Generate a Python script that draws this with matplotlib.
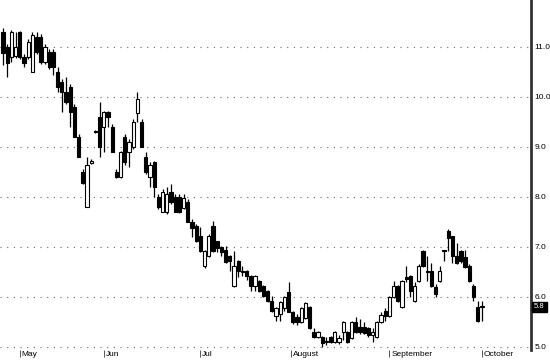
import matplotlib
matplotlib.use("Agg")
import matplotlib.pyplot as plt
import matplotlib.transforms as mtransforms
import numpy as np

# OHLC values per trading day
opens = [11.30, 11.00, 10.80, 10.82, 11.30, 10.80, 10.80, 10.50, 11.20, 11.20,
         10.70, 10.90, 10.90, 10.50, 10.30, 10.10, 10.20, 9.80, 9.20, 8.50,
         7.80, 8.68, 9.32, 9.60, 9.40, 9.70, 9.40, 8.50, 8.40, 9.20,
         8.90, 9.00, 9.67, 9.50, 8.80, 8.40, 8.70, 8.00, 7.70, 7.70,
         8.10, 8.00, 8.00, 7.78, 7.90, 7.50, 7.41, 7.21, 6.61, 6.81,
         7.41, 7.11, 7.00, 6.93, 6.81, 6.21, 6.71, 6.50, 6.51, 6.41,
         6.21, 6.31, 6.21, 6.11, 5.91, 5.61, 5.65, 5.77, 6.10, 5.70,
         5.60, 5.50, 5.57, 5.80, 5.30, 5.20, 5.20, 5.10, 5.20, 5.10,
         5.10, 5.30, 5.30, 5.17, 5.50, 5.40, 5.40, 5.37, 5.23, 5.20,
         5.50, 5.71, 5.61, 6.00, 6.21, 5.80, 6.40, 6.41, 5.91, 6.31,
         6.91, 6.50, 6.51, 6.20, 6.31, 6.91, 7.31, 7.21, 6.81, 6.91,
         6.80, 6.61, 6.21, 5.80, 5.80]
highs = [11.37, 11.05, 11.33, 11.30, 11.32, 10.85, 11.15, 11.30, 11.30, 11.25,
         11.05, 10.95, 10.95, 10.60, 10.35, 10.40, 10.25, 9.85, 9.25, 8.55,
         8.80, 8.75, 9.33, 9.90, 9.72, 9.72, 9.45, 8.55, 8.92, 9.25,
         9.15, 9.55, 10.10, 9.55, 8.90, 8.70, 8.72, 8.05, 8.15, 8.20,
         8.25, 8.05, 8.05, 8.05, 7.95, 7.55, 7.45, 7.40, 6.93, 7.25,
         7.51, 7.12, 7.02, 7.01, 6.83, 6.91, 6.73, 6.61, 6.53, 6.43,
         6.43, 6.33, 6.23, 6.13, 6.01, 5.80, 5.92, 6.02, 6.30, 5.72,
         5.65, 5.80, 5.90, 5.82, 5.37, 5.32, 5.22, 5.20, 5.22, 5.32,
         5.23, 5.52, 5.32, 5.52, 5.60, 5.55, 5.50, 5.40, 5.37, 5.52,
         5.70, 5.78, 6.02, 6.31, 6.23, 6.33, 6.61, 6.43, 6.30, 6.65,
         6.93, 6.81, 6.68, 6.25, 6.61, 6.93, 7.35, 7.22, 7.08, 6.93,
         6.93, 6.65, 6.25, 5.91, 5.91]
lows = [10.63, 10.40, 10.70, 10.78, 10.75, 10.60, 10.75, 10.50, 10.85, 10.65,
        10.65, 10.55, 10.43, 10.10, 9.70, 9.85, 9.40, 9.20, 8.80, 8.25,
        7.80, 8.65, 9.28, 8.80, 8.90, 9.40, 8.90, 8.38, 8.38, 8.63,
        8.60, 8.95, 9.50, 9.00, 8.45, 8.20, 8.00, 7.75, 7.70, 7.65,
        7.85, 7.70, 7.68, 7.75, 7.50, 7.20, 7.10, 6.90, 6.58, 6.80,
        6.90, 6.90, 6.81, 6.68, 6.51, 6.20, 6.40, 6.41, 6.33, 6.11,
        6.11, 6.10, 6.00, 5.90, 5.70, 5.51, 5.51, 5.72, 5.70, 5.45,
        5.43, 5.48, 5.55, 5.35, 5.18, 5.18, 5.00, 5.03, 5.08, 5.08,
        5.05, 5.13, 5.08, 5.15, 5.28, 5.25, 5.25, 5.20, 5.10, 5.18,
        5.48, 5.51, 5.60, 5.98, 5.89, 5.78, 6.30, 6.00, 5.90, 6.30,
        6.60, 6.31, 6.20, 6.00, 6.29, 6.71, 6.91, 6.68, 6.65, 6.68,
        6.58, 6.30, 5.91, 5.50, 5.51]
closes = [10.87, 10.67, 11.30, 11.00, 10.80, 10.67, 11.10, 11.23, 10.90, 10.70,
          11.00, 10.60, 10.60, 10.20, 10.10, 9.90, 9.70, 9.20, 8.80, 8.27,
          8.63, 8.72, 9.30, 9.00, 9.69, 9.60, 8.90, 8.40, 8.90, 8.70,
          9.10, 9.50, 9.95, 9.00, 8.50, 8.63, 8.20, 7.80, 8.10, 8.05,
          7.90, 7.70, 7.70, 7.97, 7.50, 7.38, 7.11, 6.91, 6.91, 7.21,
          6.91, 6.98, 6.90, 6.70, 6.71, 6.61, 6.51, 6.50, 6.41, 6.21,
          6.41, 6.11, 6.01, 5.91, 5.71, 5.78, 5.90, 6.00, 5.70, 5.50,
          5.50, 5.77, 5.87, 5.37, 5.20, 5.30, 5.07, 5.10, 5.10, 5.30,
          5.17, 5.50, 5.10, 5.50, 5.30, 5.30, 5.27, 5.23, 5.30, 5.50,
          5.63, 5.61, 6.00, 6.21, 5.91, 6.31, 6.35, 6.11, 6.21, 6.61,
          6.61, 6.52, 6.21, 6.05, 6.51, 6.91, 7.18, 6.81, 6.68, 6.71,
          6.60, 6.31, 6.00, 5.51, 5.80]

month_labels = ["May", "Jun", "Jul", "August", "September", "October"]
month_pos = [4, 24, 47, 68.5, 92, 114]
y_ticks = [5.0, 6.0, 7.0, 8.0, 9.0, 10.0, 11.0]
last_price = 5.8

o = np.array(opens); h = np.array(highs); l = np.array(lows); c = np.array(closes)
idx = np.arange(len(o))

FONT = "Liberation Sans"

fig = plt.figure(figsize=(5.5, 3.64), dpi=100)
ax = fig.add_axes([0.0, 0.0385, 0.9655, 0.9615])

up = c >= o
face = np.where(up, "white", "black")
ax.vlines(idx, l, h, color="black", linewidth=0.9, zorder=2)
heights = np.abs(c - o)
heights = np.where(heights < 0.02, 0.02, heights)
ax.bar(idx, heights, bottom=np.minimum(o, c), width=0.78, color=face,
       edgecolor="black", linewidth=0.8, zorder=3)

ax.set_xlim(-0.7, 125.7)
ax.set_ylim(4.94, 11.94)

for s in ["left", "top", "bottom"]:
    ax.spines[s].set_visible(False)
ax.spines["right"].set_color("#333333")
ax.spines["right"].set_linewidth(2)

ax.yaxis.tick_right()
ax.set_yticks(y_ticks)
ax.set_yticklabels([f"{v:.1f}" for v in y_ticks], fontsize=6, family=FONT)
ax.tick_params(axis="y", length=0, pad=2.5)
ax.yaxis.grid(True, color="#666666", linestyle=(0, (1, 5)), linewidth=0.8)
ax.set_axisbelow(True)

ax.set_xticks(month_pos)
ax.set_xticklabels(month_labels, fontsize=6, family=FONT)
ax.tick_params(axis="x", length=5, width=0.7, color="#555555", pad=-4.5)
offset = mtransforms.ScaledTranslation(2 / 100, 0, fig.dpi_scale_trans)
for lab in ax.get_xticklabels():
    lab.set_horizontalalignment("left")
    lab.set_transform(lab.get_transform() + offset)

trans = mtransforms.blended_transform_factory(ax.transAxes, ax.transData)
ax.text(1.006, last_price, f"{last_price:.1f}", transform=trans, fontsize=5.5,
        color="white", va="center", ha="left", family=FONT,
        bbox=dict(boxstyle="square,pad=0.25", facecolor="black", edgecolor="black"))

fig.savefig("out.png", dpi=100)
